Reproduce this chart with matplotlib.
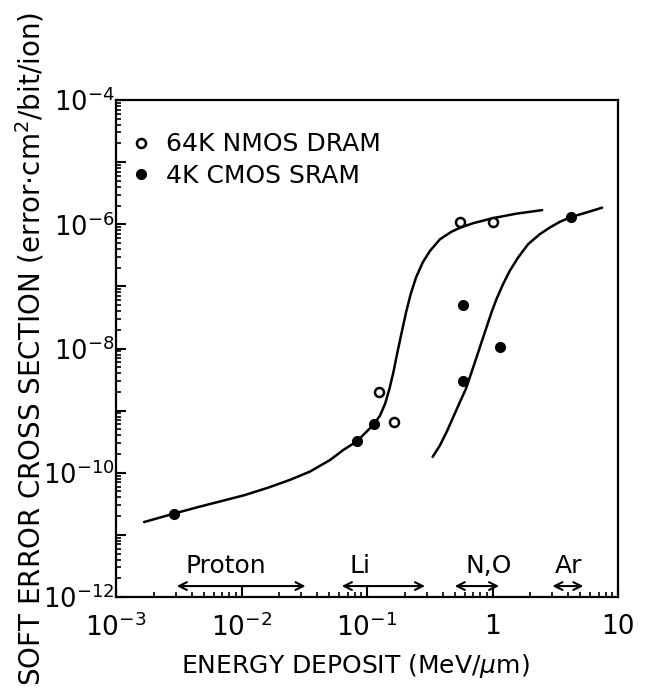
import numpy as np
import matplotlib
matplotlib.use("Agg")
import matplotlib.pyplot as plt
from matplotlib.ticker import LogLocator, FixedLocator, FuncFormatter, NullFormatter

# ---- data ----
dram_x = [0.553, 1.0, 0.125, 0.165]
dram_y = [1.09e-6, 1.09e-6, 2.03e-9, 6.55e-10]

sram_x = [2.9e-3, 0.083, 0.113, 0.578, 0.578, 1.15, 4.24]
sram_y = [2.2e-11, 3.2e-10, 6.0e-10, 5.0e-8, 3.0e-9, 1.07e-8, 1.31e-6]

curve1_x = [1.675e-3, 2.9e-3, 4.44e-3, 6.81e-3, 0.01044, 0.016, 0.0245, 0.0353,
            0.0509, 0.065, 0.083, 0.1133, 0.1272, 0.1394, 0.1509, 0.1623, 0.1747,
            0.189, 0.2047, 0.2229, 0.2458, 0.2777, 0.3175, 0.3813, 0.472, 0.553,
            0.702, 1.0, 1.55, 2.49]
curve1_y = [1.61e-11, 2.2e-11, 2.78e-11, 3.47e-11, 4.33e-11, 5.68e-11, 7.72e-11, 1.05e-10,
            1.61e-10, 2.34e-10, 3.2e-10, 6.0e-10, 8.37e-10, 1.29e-9, 2.24e-9, 4.15e-9, 8.7e-9,
            1.82e-8, 3.81e-8, 7.5e-8, 1.39e-7, 2.42e-7, 3.72e-7, 5.73e-7, 7.6e-7, 8.8e-7,
            1.04e-6, 1.25e-6, 1.48e-6, 1.69e-6]

curve2_x = [0.3334, 0.3813, 0.4306, 0.4866, 0.5497, 0.6137, 0.6807, 0.7459, 0.8174,
            0.8956, 0.9815, 1.076, 1.215, 1.373, 1.599, 1.920, 2.377, 2.854, 3.43,
            4.24, 5.58, 7.48]
curve2_y = [1.80e-10, 2.76e-10, 4.52e-10, 7.87e-10, 1.37e-9, 2.24e-9, 4.15e-9, 7.2e-9,
            1.26e-8, 2.19e-8, 3.81e-8, 6.24e-8, 1.09e-7, 1.78e-7, 2.91e-7, 4.77e-7,
            6.9e-7, 8.83e-7, 1.09e-6, 1.31e-6, 1.54e-6, 1.85e-6]

ion_names = ["Proton", "Li", "N,O", "Ar"]
ion_lo = [3.05e-3, 0.063, 0.5, 3.0]
ion_hi = [0.0324, 0.29, 1.13, 5.3]
ion_label_x = [7.5e-3, 0.088, 0.94, 4.0]

legend_labels = ["64K NMOS DRAM", "4K CMOS SRAM"]
x_ticks = [1e-3, 1e-2, 1e-1, 1, 10]
x_ticklabels = [r"$10^{-3}$", r"$10^{-2}$", r"$10^{-1}$", "1", "10"]
y_label_exps = [-12, -10, -8, -6, -4]

# ---- figure ----
W, H = 650, 694
fig = plt.figure(figsize=(W / 100, H / 100), dpi=100)
L, R, T, B = 116, 618, 100, 597
ax = fig.add_axes([L / W, 1 - B / H, (R - L) / W, (B - T) / H])

ax.set_xscale("log")
ax.set_yscale("log")
ax.set_xlim(1e-3, 10)
ax.set_ylim(1e-12, 1e-4)

lw = 1.8
ax.plot(curve1_x, curve1_y, color="black", lw=lw, solid_capstyle="round",
        solid_joinstyle="round")
ax.plot(curve2_x, curve2_y, color="black", lw=lw, solid_capstyle="round",
        solid_joinstyle="round")

ax.plot(dram_x, dram_y, linestyle="none", marker="o", ms=6.5, mfc="white",
        mec="black", mew=1.8, label=legend_labels[0], zorder=3)
ax.plot(sram_x, sram_y, linestyle="none", marker="o", ms=7, mfc="black",
        mec="black", label=legend_labels[1], zorder=3)

# ion range arrows
for name, lo, hi, lx in zip(ion_names, ion_lo, ion_hi, ion_label_x):
    ax.annotate("", xy=(lo, 1.5e-12), xytext=(hi, 1.5e-12),
                arrowprops=dict(arrowstyle="<->", color="black", lw=1.5,
                                shrinkA=0, shrinkB=0, mutation_scale=14))
    ax.text(lx, 2.05e-12, name, ha="center", va="bottom", fontsize=18)

# ticks
ax.xaxis.set_major_locator(FixedLocator(x_ticks))
ax.xaxis.set_major_formatter(FuncFormatter(
    lambda v, p: x_ticklabels[x_ticks.index(v)] if v in x_ticks else ""))
ax.xaxis.set_minor_locator(LogLocator(base=10, subs=np.arange(2, 10), numticks=20))
ax.xaxis.set_minor_formatter(NullFormatter())

ax.yaxis.set_major_locator(FixedLocator([10.0 ** e for e in range(-12, -3)]))
ax.yaxis.set_major_formatter(FuncFormatter(
    lambda v, p: (r"$10^{%d}$" % int(round(np.log10(v))))
    if int(round(np.log10(v))) in y_label_exps else ""))
ax.yaxis.set_minor_locator(LogLocator(base=10, subs=np.arange(2, 10), numticks=20))
ax.yaxis.set_minor_formatter(NullFormatter())

ax.tick_params(axis="both", which="major", direction="in", length=7, width=1.5,
               labelsize=19, top=False, right=False)
ax.tick_params(axis="y", which="major", labelsize=18.5)
ax.tick_params(axis="both", which="minor", direction="in", length=3.5, width=1.2,
               top=False, right=False)
ax.tick_params(axis="x", which="major", pad=12)
ax.tick_params(axis="y", which="major", pad=1)

for s in ax.spines.values():
    s.set_linewidth(1.6)

ax.set_xlabel(r"ENERGY DEPOSIT (MeV/$\mu$m)", fontsize=18)
ax.xaxis.set_label_coords(0.477, -0.11)
ax.set_ylabel(r"SOFT ERROR CROSS SECTION (error$\cdot$cm$^2$/bit/ion)", fontsize=20)
ax.yaxis.set_label_coords(-0.138, 0.5)

leg = ax.legend(loc="upper left", bbox_to_anchor=(0.0, 0.965), frameon=False,
                fontsize=18, handlelength=0.8, handletextpad=0.6,
                labelspacing=0.3, borderaxespad=0.2)

fig.savefig("out.png", dpi=100)
